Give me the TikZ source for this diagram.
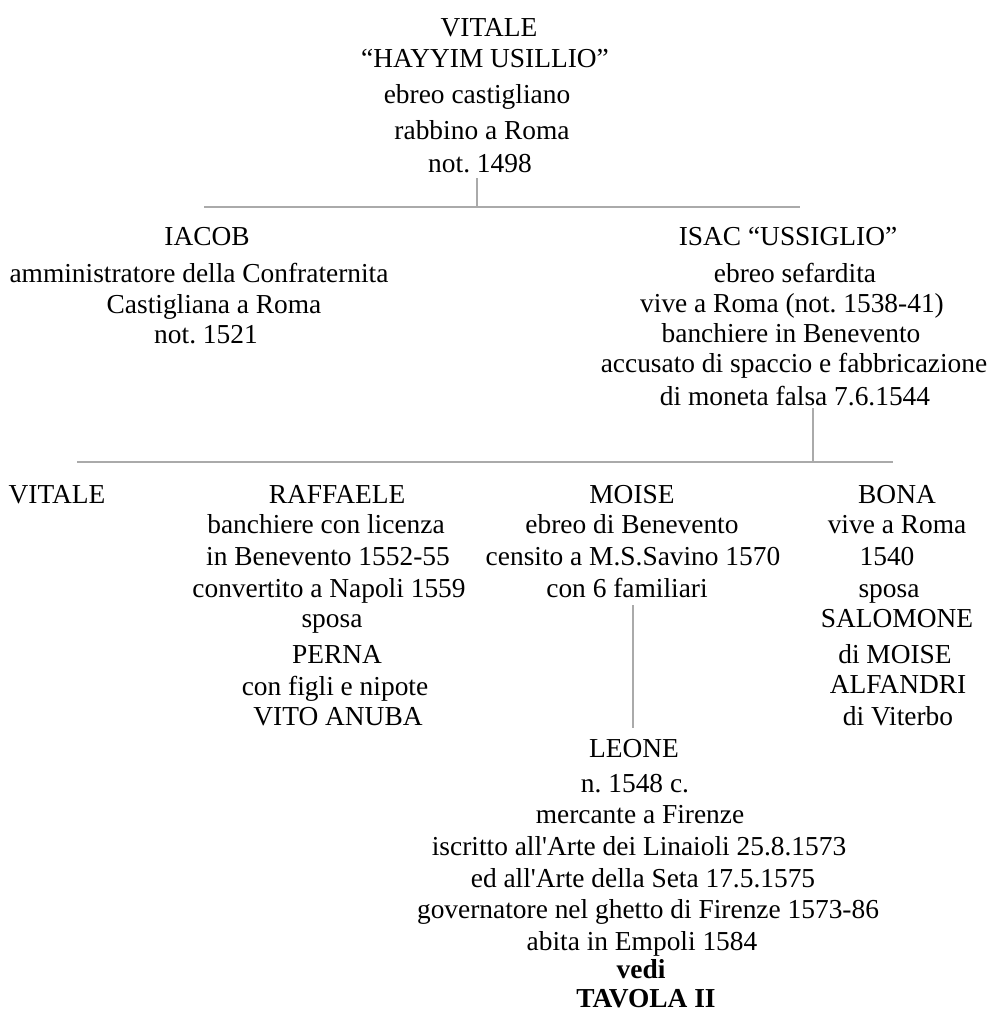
\documentclass[tikz,border=0pt]{standalone}
\usepackage{fontspec}
\setmainfont{Liberation Serif}
\frenchspacing
\definecolor{linegrey}{RGB}{170,170,170}
\tikzset{
    txt/.style={anchor=base, inner sep=0pt, font=\fontsize{27.4}{32}\selectfont},
    link/.style={draw=linegrey, line width=1.5pt}
}
\begin{document}
\begin{tikzpicture}[x=1pt,y=-1pt]
        \useasboundingbox (0,0) rectangle (990,1012);

        \foreach \x/\y/\t [count=\i] in {489/36/VITALE, 485/67/{“HAYYIM USILLIO”}, 477/103/{ebreo castigliano}, 482/139/{rabbino a Roma}, 480/172/{not. 1498}}
            \node[txt] (vit\i) at (\x,\y) {\t};

        \foreach \x/\y/\t [count=\i] in {207/245/IACOB, 199/282/{amministratore della Confraternita}, 214/313/{Castigliana a Roma}, 206/343/{not. 1521}}
            \node[txt] (iac\i) at (\x,\y) {\t};

        \foreach \x/\y/\t [count=\i] in {788/245/{ISAC “USSIGLIO”}, 795/282/{ebreo sefardita}, 792/312/{vive a Roma (not. 1538-41)}, 791/342/{banchiere in Benevento}, 794/372/{accusato di spaccio e fabbricazione}, 795/405/{di moneta falsa 7.6.1544}}
            \node[txt] (isa\i) at (\x,\y) {\t};

        \node[txt] (vit6) at (57,503) {VITALE};

        \foreach \x/\y/\t [count=\i] in {337/503/RAFFAELE, 326/533/{banchiere con licenza}, 328/565/{in Benevento 1552-55}, 329/597/{convertito a Napoli 1559}, 332/627/sposa, 337/663/PERNA, 335/695/{con figli e nipote}, 338/725/{VITO ANUBA}}
            \node[txt] (raf\i) at (\x,\y) {\t};

        \foreach \x/\y/\t [count=\i] in {632/503/MOISE, 632/533/{ebreo di Benevento}, 633/565/{censito a M.S.Savino 1570}, 627/597/{con 6 familiari}}
            \node[txt] (moi\i) at (\x,\y) {\t};

        \foreach \x/\y/\t [count=\i] in {897/503/BONA, 897/533/{vive a Roma}, 887/565/1540, 889/597/sposa, 897/627/SALOMONE, 895/663/{di MOISE}, 898/693/ALFANDRI, 898/725/{di Viterbo}}
            \node[txt] (bon\i) at (\x,\y) {\t};

        \foreach \x/\y/\t [count=\i] in {634/757/LEONE, 635/792/{n. 1548 c.}, 640/823/{mercante a Firenze}, 639/855/{iscritto all\textquotesingle Arte dei Linaioli 25.8.1573}, 643/887/{ed all\textquotesingle Arte della Seta 17.5.1575}, 648/918/{governatore nel ghetto di Firenze 1573-86}, 642/950/{abita in Empoli 1584}, 641/978/{\bfseries vedi}, 646/1007/{\bfseries TAVOLA II}}
            \node[txt] (leo\i) at (\x,\y) {\t};

        \coordinate (vitdown) at (477,178);
        \coordinate (bar1l) at (204,207);
        \coordinate (bar1m) at (477,207);
        \coordinate (bar1r) at (800,207);
        \path[link] (vitdown) -- (bar1m);
        \path[link] (bar1l) -- (bar1r);

        \coordinate (isadown) at (813,408);
        \coordinate (bar2l) at (77,462);
        \coordinate (bar2m) at (813,462);
        \coordinate (bar2r) at (893,462);
        \path[link] (isadown) -- (bar2m);
        \path[link] (bar2l) -- (bar2r);

        \coordinate (moidown) at (633,605);
        \coordinate (leoup) at (633,728);
        \path[link] (moidown) -- (leoup);
    \end{tikzpicture}
\end{document}
